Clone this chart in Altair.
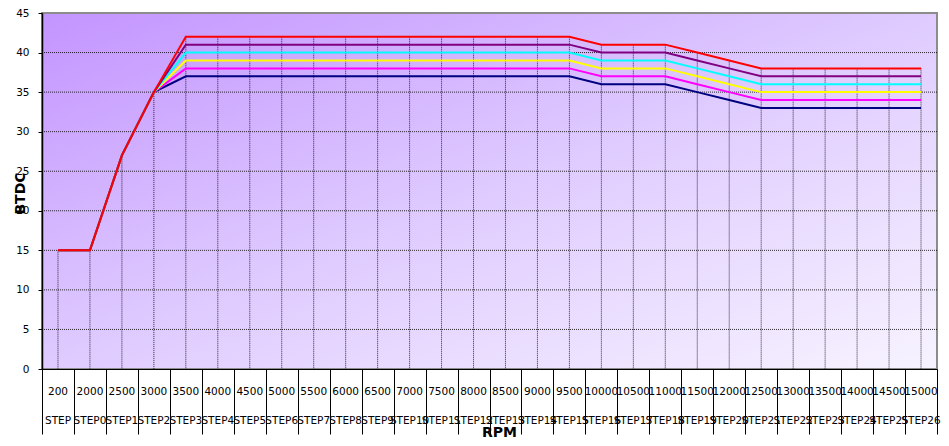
import altair as alt
import pandas as pd

rpm = ["200", "2000", "2500", "3000", "3500", "4000", "4500", "5000", "5500", "6000",
       "6500", "7000", "7500", "8000", "8500", "9000", "9500", "10000", "10500", "11000",
       "11500", "12000", "12500", "13000", "13500", "14000", "14500", "15000"]
steps = ["STEP", "STEP0", "STEP1", "STEP2", "STEP3", "STEP4", "STEP5", "STEP6", "STEP7",
         "STEP8", "STEP9", "STEP10", "STEP11", "STEP12", "STEP13", "STEP14", "STEP15",
         "STEP16", "STEP17", "STEP18", "STEP19", "STEP20", "STEP21", "STEP22", "STEP23",
         "STEP24", "STEP25", "STEP26"]

s_navy = [15, 15, 27, 35, 37, 37, 37, 37, 37, 37, 37, 37, 37, 37, 37, 37, 37,
          36, 36, 36, 35, 34, 33, 33, 33, 33, 33, 33]
s_magenta = [15, 15, 27, 35, 38, 38, 38, 38, 38, 38, 38, 38, 38, 38, 38, 38, 38,
             37, 37, 37, 36, 35, 34, 34, 34, 34, 34, 34]
s_yellow = [15, 15, 27, 35, 39, 39, 39, 39, 39, 39, 39, 39, 39, 39, 39, 39, 39,
            38, 38, 38, 37, 36, 35, 35, 35, 35, 35, 35]
s_cyan = [15, 15, 27, 35, 40, 40, 40, 40, 40, 40, 40, 40, 40, 40, 40, 40, 40,
          39, 39, 39, 38, 37, 36, 36, 36, 36, 36, 36]
s_purple = [15, 15, 27, 35, 41, 41, 41, 41, 41, 41, 41, 41, 41, 41, 41, 41, 41,
            40, 40, 40, 39, 38, 37, 37, 37, 37, 37, 37]
s_red = [15, 15, 27, 35, 42, 42, 42, 42, 42, 42, 42, 42, 42, 42, 42, 42, 42,
         41, 41, 41, 40, 39, 38, 38, 38, 38, 38, 38]

series_values = [s_navy, s_magenta, s_yellow, s_cyan, s_purple, s_red]
series_colors = ["#000080", "#FF00FF", "#FFFF00", "#00FFFF", "#800080", "#FF0000"]
y_ticks = [0, 5, 10, 15, 20, 25, 30, 35, 40, 45]
grid_levels = [5, 10, 15, 20, 25, 30, 35, 40]

W, H = 895, 356
FONT = "DejaVu Sans"
n = len(rpm)
idx = list(range(n))
boundaries = [i - 0.5 for i in range(n + 1)]

cats = pd.DataFrame({"idx": idx, "rpm": rpm, "step": steps})
cats["top"] = [max(v[i] for v in series_values) for i in idx]
cats["zero"] = 0
grid_df = pd.DataFrame({"yv": grid_levels})

xscale = alt.Scale(domain=[-0.5, n - 0.5], nice=False, zero=False)
yscale = alt.Scale(domain=[0, 45], nice=False, zero=True)

xaxis = alt.Axis(values=boundaries, labels=False, tickSize=65, tickColor="black",
                 domainColor="black", domainWidth=1, grid=False, title="RPM",
                 titleFont=FONT, titleFontSize=14, titleFontWeight="bold",
                 titleColor="black", titleX=457, titleY=67, titleAlign="center",
                 titleBaseline="alphabetic", zindex=1)
yaxis = alt.Axis(values=y_ticks, tickSize=4, labelPadding=9, tickColor="black",
                 domainColor="black", domainWidth=1.5, labelFont=FONT,
                 labelFontSize=10.5, labelColor="black", grid=False, title="BTDC",
                 titleFont=FONT, titleFontSize=14, titleFontWeight="bold",
                 titleColor="black", titleX=-22, titleY=180, titleAngle=270,
                 titleAlign="center", titleBaseline="middle", zindex=1)


def X(field):
    return alt.X(f"{field}:Q", scale=xscale, axis=xaxis)


def Y(field):
    return alt.Y(f"{field}:Q", scale=yscale, axis=yaxis)


gradient = alt.Gradient(
    gradient="linear", x1=0, y1=0, x2=1, y2=1,
    stops=[alt.GradientStop(color="#C394FF", offset=0),
           alt.GradientStop(color="#DFCBFF", offset=0.5),
           alt.GradientStop(color="#F7F3FF", offset=1)])

background = alt.Chart(alt.Data(values=[{}])).mark_rect(
    color=gradient, stroke="#8C8C8C", strokeWidth=2
).encode(x=alt.value(0), x2=alt.value(W), y=alt.value(0), y2=alt.value(H))

hgrid = alt.Chart(grid_df).mark_rule(
    color="black", strokeWidth=1, strokeDash=[1, 1], opacity=0.8
).encode(y=Y("yv"), x=alt.value(0), x2=alt.value(W))

drops = alt.Chart(cats).mark_rule(
    color="black", strokeWidth=1, strokeDash=[1, 1], opacity=0.8
).encode(x=X("idx"), y=Y("top"), y2=alt.Y2("zero:Q"))

line_layers = []
for vals, col in zip(series_values, series_colors):
    d = pd.DataFrame({"idx": idx, "v": vals})
    line_layers.append(
        alt.Chart(d).mark_line(color=col, strokeWidth=2).encode(x=X("idx"), y=Y("v"))
    )

rpm_text = alt.Chart(cats).mark_text(
    font=FONT, fontSize=10.5, color="black", baseline="middle", align="center"
).encode(x=X("idx"), y=alt.value(H + 22.5), text="rpm:N")

step_text = alt.Chart(cats).mark_text(
    font=FONT, fontSize=10.5, color="black", baseline="middle", align="center"
).encode(x=X("idx"), y=alt.value(H + 52), text="step:N")

chart = alt.layer(
    background, hgrid, drops, *line_layers, rpm_text, step_text
).properties(
    width=W, height=H,
    autosize=alt.AutoSizeParams(type="none"),
    padding={"left": 34, "top": 5, "right": 4, "bottom": 69},
).configure_view(strokeWidth=0)

chart.save("out.html", embed_options={"renderer": "svg", "actions": False})
